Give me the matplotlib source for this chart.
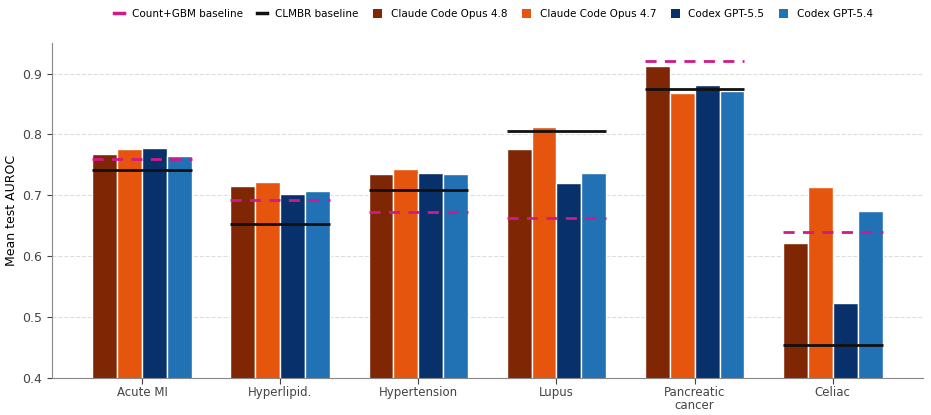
import matplotlib.pyplot as plt
import numpy as np
from matplotlib.lines import Line2D
from matplotlib.patches import Patch

tasks = ['Acute MI', 'Hyperlipid.', 'Hypertension', 'Lupus', 'Pancreatic\ncancer', 'Celiac']
models = ['Claude Code Opus 4.8', 'Claude Code Opus 4.7', 'Codex GPT-5.5', 'Codex GPT-5.4']
colors = ['#7f2704', '#e6550d', '#08306b', '#2171b5']

opus48 = [0.768, 0.715, 0.735, 0.777, 0.912, 0.621]
opus47 = [0.777, 0.722, 0.743, 0.812, 0.868, 0.714]
gpt55 = [0.778, 0.703, 0.736, 0.720, 0.882, 0.523]
gpt54 = [0.765, 0.708, 0.735, 0.737, 0.872, 0.675]
gbm_baseline = [0.759, 0.693, 0.673, 0.663, 0.921, 0.640]
clmbr_baseline = [0.742, 0.653, 0.709, 0.806, 0.874, 0.454]

series = [opus48, opus47, gpt55, gpt54]

fig = plt.figure(figsize=(9.31, 4.15), dpi=100)
ax = fig.add_axes([0.056, 0.089, 0.935, 0.807])

x = np.arange(len(tasks))
width = 0.18
offsets = (np.arange(len(models)) - 1.5) * width

for vals, off, c, name in zip(series, offsets, colors, models):
    ax.bar(x + off, vals, width, color=c, edgecolor='white', linewidth=1.0, label=name, zorder=2)

# baselines span the whole group
half = 2 * width
for i in range(len(tasks)):
    ax.hlines(clmbr_baseline[i], x[i] - half, x[i] + half, color='#111111', linewidth=2.0, zorder=3)
    ax.hlines(gbm_baseline[i], x[i] - half, x[i] + half, color='#d0198a', linewidth=2.0,
              linestyles=(0, (4, 3)), zorder=3)

ax.set_ylim(0.4, 0.95)
ax.set_xlim(-0.65, 5.65)
ax.set_xticks(x)
ax.set_xticklabels(tasks, fontsize=8.5, color='#444444', linespacing=1.0)
ax.set_yticks([0.4, 0.5, 0.6, 0.7, 0.8, 0.9])
ax.tick_params(axis='y', labelsize=9, colors='#444444')
ax.tick_params(axis='x', colors='#444444', length=4, pad=2)
ax.set_ylabel('Mean test AUROC', fontsize=9, labelpad=3)
ax.yaxis.grid(True, linestyle='--', color='#dddddd', linewidth=0.8, zorder=0)
ax.set_axisbelow(True)
for s in ['top', 'right']:
    ax.spines[s].set_visible(False)
for s in ['left', 'bottom']:
    ax.spines[s].set_color('#888888')

handles = [Line2D([0], [0], color='#d0198a', linewidth=2.5),
           Line2D([0], [0], color='#111111', linewidth=2.5)]
handles += [Patch(facecolor=c) for c in colors]
labels = ['Count+GBM baseline', 'CLMBR baseline'] + models
fig.legend(handles, labels, loc='upper center', bbox_to_anchor=(0.53, 1.0), ncol=6,
           frameon=False, fontsize=7.5, handlelength=0.9, handleheight=0.9,
           columnspacing=1.4, handletextpad=0.8)

fig.savefig('out.png', dpi=100)
